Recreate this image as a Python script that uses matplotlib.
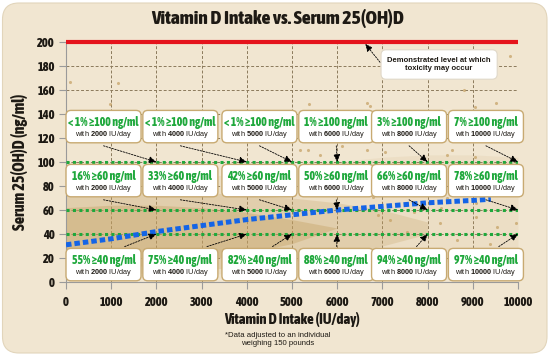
import matplotlib
matplotlib.use('Agg')
import matplotlib.pyplot as plt
from matplotlib import font_manager
from matplotlib.font_manager import FontProperties
from matplotlib.patches import FancyBboxPatch
import numpy as np

# ---------------- data ----------------
doses = [2000, 4000, 5000, 6000, 8000, 10000]
pct_100 = ['< 1%', '< 1%', '< 1%', '1%', '3%', '7%']
pct_60 = ['16%', '33%', '42%', '50%', '66%', '78%']
pct_40 = ['55%', '75%', '82%', '88%', '94%', '97%']
thresholds = [100, 60, 40]
toxicity_level = 200

trend_x = [0, 1000, 2000, 3000, 4000, 5000, 6000, 7000, 8000, 9000, 9400]
trend_y = [31, 36, 42, 47, 52, 56, 60, 63, 66, 68, 69]

sparse_x = [0, 1000, 2000, 3000, 4000, 5000, 6000, 7000, 8000, 9000, 10000]
sparse_lo = [2, 3, 4, 6, 8, 10, 12, 14, 16, 18, 20]
sparse_hi = [82, 84, 86, 88, 90, 95, 100, 104, 106, 106, 104]
mid_x = [0, 1000, 2000, 3000, 4000, 5000, 6000, 7000, 8000]
mid_lo = [5, 6, 8, 10, 13, 17, 22, 30, 40]
mid_hi = [76, 78, 77, 75, 72, 70, 66, 60, 50]
core_x = [0, 1000, 2000, 3000, 4000, 5000, 6000]
core_lo = [12, 12, 14, 18, 24, 32, 45]
core_hi = [62, 64, 64, 62, 58, 52, 45]

outlier_x = [90, 1150, 970, 5370, 6650, 8800, 9830, 9520, 5350, 6100, 7050,
             8530, 9040, 6720, 9040, 5170, 5610, 6650, 8420, 6790, 8420, 9080,
             7160, 8270, 9080, 9530, 7540, 8640, 9370, 9950, 6300, 7400, 7800,
             8100, 8900, 9700, 6900, 7700, 8300, 9200, 5800, 6400]
outlier_y = [167, 166, 148, 148, 149, 160, 188, 149, 110, 113, 108,
             110, 104, 147, 146, 110, 106, 110, 106, 71, 70, 66,
             52, 49, 54, 46, 42, 35, 32, 49, 88, 92, 78, 95, 84, 90, 56, 58,
             62, 76, 92, 80]

x_ticks = list(range(0, 10001, 1000))
y_ticks = list(range(0, 201, 20))

title = 'Vitamin D Intake vs. Serum 25(OH)D'
x_label = 'Vitamin D Intake (IU/day)'
y_label = 'Serum 25(OH)D (ng/ml)'
footnote = '*Data adjusted to an individual\nweighing 150 pounds'
tox_note = 'Demonstrated level at which\ntoxicity may occur'

# ---------------- fonts ----------------
names = {f.name for f in font_manager.fontManager.ttflist}
SANS = 'Liberation Sans' if 'Liberation Sans' in names else 'DejaVu Sans'


def _is_cond(f):
    st = f.stretch
    if isinstance(st, str):
        if 'condensed' in st:
            return True
    elif isinstance(st, (int, float)) and st < 500:
        return True
    return ('Narrow' in f.name) or ('Condensed' in f.name)


def _w(f):
    w = f.weight
    if isinstance(w, str):
        return {'bold': 700, 'heavy': 800, 'black': 900, 'semibold': 600,
                'demibold': 600, 'extra bold': 800}.get(w, 400)
    return w


cond = [f for f in font_manager.fontManager.ttflist
        if _is_cond(f) and f.style == 'normal']
cond.sort(key=lambda f: (-_w(f) if _w(f) <= 800 else 0))
COND_FILE = cond[0].fname if cond else None


def cfp(size):
    if COND_FILE:
        return FontProperties(fname=COND_FILE, size=size)
    return FontProperties(family=SANS, weight='bold', size=size)


plt.rcParams['mathtext.fontset'] = 'custom'
plt.rcParams['mathtext.rm'] = SANS
plt.rcParams['mathtext.bf'] = SANS + ':bold'

# ---------------- colours ----------------
BEIGE = '#f1e6d1'
TAN = '#c4a062'
GREEN = '#1fa83c'
BLUE = '#1464e6'
RED = '#e5141c'
GRID = '#8b7a5c'
BOXEDGE = '#c8aa72'
DARK = '#1e1a14'

fig = plt.figure(figsize=(5.5, 3.56), dpi=100)
fig.patch.set_facecolor('white')
bg = FancyBboxPatch((2.5 / 550, 3 / 356), 544.5 / 550, 350 / 356,
                    boxstyle='round,pad=0,rounding_size=0.03',
                    mutation_aspect=550 / 356,
                    transform=fig.transFigure, fc=BEIGE, ec='#e2d5bb', lw=0.8,
                    zorder=-10)
fig.patches.append(bg)

ax = fig.add_axes([66 / 550, 1 - 282 / 356, 452 / 550, 240 / 356])
ax.set_zorder(2)
ax.set_facecolor('none')
ax.set_xlim(0, 10000)
ax.set_ylim(0, 200)

# grid
for xv in x_ticks[1:]:
    ax.axvline(xv, color=GRID, lw=0.7, ls=(0, (3, 2)), zorder=1)
for yv in y_ticks[1:-1]:
    ax.axhline(yv, color=GRID, lw=0.7, ls=(0, (3, 2)), zorder=1)

# measurement cloud
ax.fill_between(sparse_x, sparse_lo, sparse_hi, color=TAN, alpha=0.10, lw=0, zorder=2)
ax.fill_between(mid_x, mid_lo, mid_hi, color=TAN, alpha=0.25, lw=0, zorder=2)
ax.fill_between(core_x, core_lo, core_hi, color=TAN, alpha=0.38, lw=0, zorder=2)
ax.scatter(outlier_x, outlier_y, s=5, color=TAN, alpha=0.7, lw=0, zorder=2)

# threshold lines
for t in thresholds:
    ax.plot([0, 10000], [t, t], color=GREEN, lw=2.2, ls=(0, (1, 1.1)),
            dash_capstyle='butt', zorder=3)
ax.plot([0, 10000], [toxicity_level, toxicity_level], color=RED, lw=3,
        solid_capstyle='butt', clip_on=False, zorder=4)

# trend
ax.plot(trend_x, trend_y, color=BLUE, lw=3.6, ls=(0, (1.1, 0.6)),
        dash_capstyle='butt', zorder=4)

# spines / ticks
for s in ['top', 'right']:
    ax.spines[s].set_visible(False)
for s in ['left', 'bottom']:
    ax.spines[s].set_color('#9a9a9a')
    ax.spines[s].set_linewidth(0.8)
ax.set_xticks(x_ticks)
ax.set_yticks(y_ticks)
ax.tick_params(axis='both', colors='#9a9a9a', length=5, width=0.8, pad=3,
               labelcolor=DARK)
for lab in ax.get_xticklabels() + ax.get_yticklabels():
    lab.set_fontproperties(cfp(9))
ax.tick_params(axis='x', pad=5)

ax.set_xlabel(x_label, fontproperties=cfp(10.5), color=DARK, labelpad=2)
ax.set_ylabel(y_label, fontproperties=cfp(11.5), color=DARK, labelpad=7)
fig.text(0.505, 1 - 19 / 356, title, ha='center', va='center',
         fontproperties=cfp(14), color=DARK)
fig.text(0.505, 1 - 339.5 / 356, footnote, ha='center', va='center',
         fontfamily=SANS, fontsize=5.6, color=DARK, linespacing=1.1)

# ---------------- annotation boxes ----------------
box_left = [0, 1700, 3450, 5150, 6760, 8460]
box_w = 1660
box_h = 27
row_y0 = [116, 71, 1]
px_x = 452 / 10000.0
px_y = 240 / 200.0
rad_px = 5
asp = (rad_px / px_y) / (rad_px / px_x)


def draw_box(x0, y0, line1, dose):
    p = FancyBboxPatch((x0, y0), box_w, box_h,
                       boxstyle='round,pad=0,rounding_size=%f' % (rad_px / px_x),
                       mutation_aspect=asp, fc='white', ec=BOXEDGE, lw=1.0,
                       zorder=6, clip_on=False)
    ax.add_patch(p)
    cx = x0 + box_w / 2
    ax.text(cx, y0 + box_h * 0.64, line1, ha='center', va='center',
            fontproperties=cfp(8.4), color=GREEN, zorder=7, clip_on=False)
    ax.text(cx, y0 + box_h * 0.25, r'with $\mathbf{%d}$ IU/day' % dose,
            ha='center', va='center', fontfamily=SANS, fontsize=5.3,
            color=DARK, zorder=7, clip_on=False)


def arrow(sx, sy, tx, ty):
    ax.annotate('', xy=(tx, ty), xytext=(sx, sy),
                arrowprops=dict(arrowstyle='-|>,head_length=0.45,head_width=0.2',
                                color='black', lw=0.6, ls=(0, (2, 1.5)),
                                shrinkA=0, shrinkB=0),
                zorder=5, annotation_clip=False)


labels_rows = [
    [p + ' \u2265100 ng/ml' for p in pct_100],
    [p + ' \u226560 ng/ml' for p in pct_60],
    [p + ' \u226540 ng/ml' for p in pct_40],
]
for r, (t, y0) in enumerate(zip(thresholds, row_y0)):
    for i, d in enumerate(doses):
        x0 = box_left[i]
        draw_box(x0, y0, labels_rows[r][i], d)
        cx = x0 + box_w / 2
        if r < 2:
            arrow(cx, y0 - 2.5, d, t)
        else:
            arrow(cx + 0.4 * (d - cx), y0 + box_h + 1.5, d, t)

# toxicity note
tx0, ty0, tw, th = 6970, 169, 2570, 24.5
ax.add_patch(FancyBboxPatch((tx0, ty0), tw, th,
                            boxstyle='round,pad=0,rounding_size=%f' % (rad_px / px_x),
                            mutation_aspect=asp, fc='white', ec='#e0d8c8', lw=0.8,
                            zorder=6))
ax.text(tx0 + tw / 2, ty0 + th / 2, tox_note, ha='center', va='center',
        fontfamily=SANS, fontweight='bold', fontsize=5.5, color=DARK,
        linespacing=1.2, zorder=7)
arrow(6950, 183, 6620, 198.5)

fig.savefig('out.png', dpi=100, facecolor='white')
